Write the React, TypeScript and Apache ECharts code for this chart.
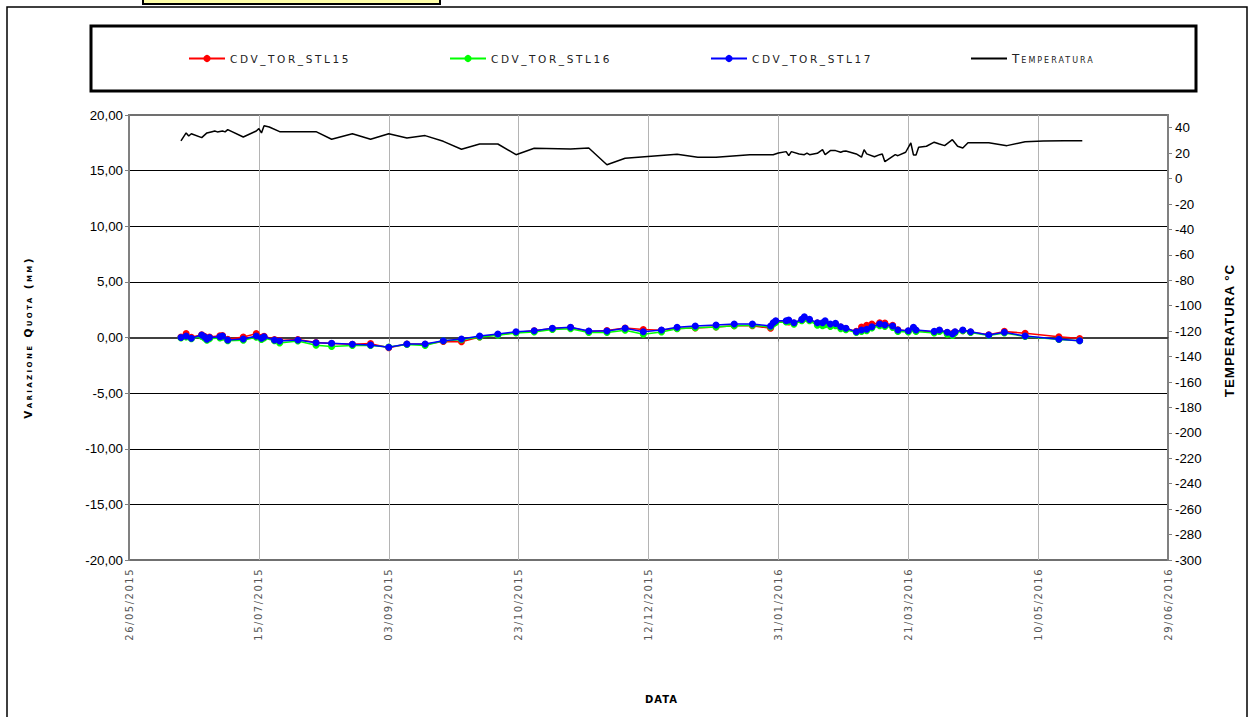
import React, { useEffect, useRef } from 'react';
import * as echarts from 'echarts';

// ---------- data ----------
const X_START = '26/05/2015';
const X_END_DAYS = 400;
const X_INTERVAL_DAYS = 50;

const surveyDates = [
  '15/06/2015', '17/06/2015', '19/06/2015', '23/06/2015', '24/06/2015', '25/06/2015', '26/06/2015', '30/06/2015',
  '01/07/2015', '03/07/2015', '09/07/2015', '14/07/2015', '16/07/2015', '17/07/2015', '21/07/2015', '23/07/2015',
  '30/07/2015', '06/08/2015', '12/08/2015', '20/08/2015', '27/08/2015', '03/09/2015', '10/09/2015', '17/09/2015',
  '24/09/2015', '01/10/2015', '08/10/2015', '15/10/2015', '22/10/2015', '29/10/2015', '05/11/2015', '12/11/2015',
  '19/11/2015', '26/11/2015', '03/12/2015', '10/12/2015', '17/12/2015', '23/12/2015', '30/12/2015', '07/01/2016',
  '14/01/2016', '21/01/2016', '28/01/2016', '29/01/2016', '30/01/2016', '03/02/2016', '04/02/2016', '06/02/2016',
  '09/02/2016', '10/02/2016', '12/02/2016', '15/02/2016', '17/02/2016', '18/02/2016', '20/02/2016', '22/02/2016',
  '24/02/2016', '26/02/2016', '01/03/2016', '03/03/2016', '05/03/2016', '07/03/2016', '10/03/2016', '12/03/2016',
  '15/03/2016', '17/03/2016', '21/03/2016', '23/03/2016', '24/03/2016', '31/03/2016', '02/04/2016', '05/04/2016',
  '07/04/2016', '08/04/2016', '11/04/2016', '14/04/2016', '21/04/2016', '27/04/2016', '05/05/2016', '18/05/2016',
  '26/05/2016',
];

const stl15 = [
  0.05, 0.35, 0.02, 0.25, 0.12, -0.10, 0.05, 0.15,
  0.18, -0.15, 0.05, 0.35, 0.02, 0.12, -0.18, -0.28,
  -0.18, -0.45, -0.55, -0.60, -0.55, -0.92, -0.58, -0.60,
  -0.35, -0.38, 0.05, 0.25, 0.45, 0.60, 0.80, 0.90,
  0.55, 0.62, 0.85, 0.72, 0.65, 0.82, 0.85, 0.95,
  1.05, 1.05, 0.83, 1.25, 1.45, 1.45, 1.40, 1.30,
  1.55, 1.75, 1.55, 1.30, 1.25, 1.35, 1.15, 1.20,
  0.95, 0.80, 0.55, 0.95, 1.10, 1.20, 1.33, 1.30,
  1.10, 0.70, 0.58, 0.85, 0.62, 0.50, 0.62, 0.45,
  0.35, 0.50, 0.62, 0.50, 0.25, 0.55, 0.38, 0.07,
  -0.10,
];

const stl16 = [
  -0.05, 0.05, -0.12, 0.10, -0.05, -0.25, -0.12, -0.05,
  0.02, -0.30, -0.25, 0.02, -0.18, -0.05, -0.30, -0.50,
  -0.32, -0.70, -0.80, -0.72, -0.72, -0.85, -0.62, -0.72,
  -0.30, -0.20, 0.05, 0.20, 0.40, 0.50, 0.72, 0.78,
  0.45, 0.45, 0.65, 0.30, 0.50, 0.78, 0.88, 0.95,
  1.05, 1.10, 0.95, 1.20, 1.35, 1.40, 1.45, 1.20,
  1.50, 1.70, 1.50, 1.10, 1.05, 1.15, 1.00, 1.05,
  0.80, 0.70, 0.45, 0.55, 0.62, 0.85, 1.05, 1.00,
  0.90, 0.55, 0.50, 0.80, 0.55, 0.40, 0.55, 0.30,
  0.18, 0.40, 0.60, 0.45, 0.18, 0.40, 0.10, -0.18,
  -0.30,
];

const stl17 = [
  0.00, 0.13, -0.07, 0.22, 0.07, -0.16, 0.00, 0.07,
  0.13, -0.22, -0.13, 0.13, -0.07, 0.07, -0.22, -0.31,
  -0.22, -0.47, -0.52, -0.61, -0.67, -0.88, -0.58, -0.58,
  -0.29, -0.13, 0.13, 0.31, 0.52, 0.61, 0.83, 0.92,
  0.58, 0.58, 0.83, 0.52, 0.67, 0.92, 1.03, 1.12,
  1.21, 1.21, 1.03, 1.33, 1.51, 1.51, 1.57, 1.33,
  1.63, 1.87, 1.63, 1.33, 1.33, 1.51, 1.21, 1.27,
  0.97, 0.83, 0.52, 0.67, 0.74, 0.97, 1.21, 1.12,
  1.03, 0.67, 0.61, 0.92, 0.67, 0.55, 0.67, 0.47,
  0.31, 0.52, 0.67, 0.52, 0.22, 0.47, 0.13, -0.16,
  -0.29,
];

const tempDates = [
  '15/06/2015', '17/06/2015', '18/06/2015', '19/06/2015', '23/06/2015', '25/06/2015', '27/06/2015', '28/06/2015',
  '29/06/2015', '01/07/2015', '02/07/2015', '03/07/2015', '09/07/2015', '14/07/2015', '15/07/2015', '16/07/2015',
  '17/07/2015', '19/07/2015', '23/07/2015', '06/08/2015', '12/08/2015', '20/08/2015', '27/08/2015', '03/09/2015',
  '10/09/2015', '17/09/2015', '24/09/2015', '01/10/2015', '08/10/2015', '15/10/2015', '22/10/2015', '29/10/2015',
  '12/11/2015', '19/11/2015', '26/11/2015', '03/12/2015', '23/12/2015', '31/12/2015', '07/01/2016', '20/01/2016',
  '29/01/2016', '31/01/2016', '03/02/2016', '04/02/2016', '05/02/2016', '08/02/2016', '10/02/2016', '11/02/2016',
  '12/02/2016', '15/02/2016', '17/02/2016', '18/02/2016', '20/02/2016', '22/02/2016', '24/02/2016', '25/02/2016',
  '26/02/2016', '01/03/2016', '03/03/2016', '04/03/2016', '05/03/2016', '08/03/2016', '10/03/2016', '11/03/2016',
  '12/03/2016', '15/03/2016', '16/03/2016', '17/03/2016', '20/03/2016', '22/03/2016', '23/03/2016', '24/03/2016',
  '25/03/2016', '28/03/2016', '31/03/2016', '02/04/2016', '04/04/2016', '07/04/2016', '09/04/2016', '11/04/2016',
  '13/04/2016', '21/04/2016', '28/04/2016', '05/05/2016', '12/05/2016', '20/05/2016', '27/05/2016',
];

const temperature = [
  29.6, 35.9, 33.5, 35.3, 32.2, 35.9, 36.9, 37.4,
  36.7, 37.4, 36.7, 38.5, 32.7, 37.4, 39.3, 35.9,
  41.6, 40.6, 36.9, 36.9, 30.9, 35.3, 30.9, 35.3,
  31.9, 33.8, 29.3, 23.1, 27.2, 27.2, 18.8, 23.8,
  23.3, 24.1, 10.9, 16.0, 19.1, 16.8, 16.8, 18.8,
  18.8, 20.1, 21.2, 18.0, 21.2, 19.4, 18.8, 20.1,
  18.8, 19.9, 22.7, 18.8, 22.0, 22.0, 20.7, 21.5,
  21.7, 19.4, 16.8, 22.7, 19.4, 17.2, 18.8, 19.4,
  13.3, 17.5, 18.8, 18.0, 20.7, 28.0, 18.6, 18.6,
  24.6, 25.4, 28.6, 27.2, 25.9, 30.6, 25.4, 24.1,
  28.2, 28.2, 25.9, 29.0, 29.6, 29.8, 29.8,
];

const seriesNames = ['CDV_TOR_STL15', 'CDV_TOR_STL16', 'CDV_TOR_STL17', 'Temperatura'];
const seriesColors = ['#ff0000', '#00ff00', '#0000ff', '#000000'];
const leftAxisName = 'Variazione Quota (mm)';
const rightAxisName = 'TEMPERATURA °C';
const xAxisName = 'DATA';

// ---------- helpers ----------
const DAY_MS = 86400000;
function parseDate(s: string): number {
  const [d, m, y] = s.split('/').map(Number);
  return Date.UTC(y, m - 1, d);
}
const ORIGIN = parseDate(X_START);
const toDay = (s: string) => Math.round((parseDate(s) - ORIGIN) / DAY_MS);
const pad = (n: number) => (n < 10 ? '0' + n : '' + n);
function dayLabel(v: number): string {
  const dt = new Date(ORIGIN + v * DAY_MS);
  return pad(dt.getUTCDate()) + '/' + pad(dt.getUTCMonth() + 1) + '/' + dt.getUTCFullYear();
}

const LEGEND_FONT = 'DejaVu Sans;letter-spacing:2.6px';
const LEGEND_SC_FONT = 'DejaVu Sans;font-variant:small-caps;letter-spacing:2px';
const LEFT_NAME_FONT = 'DejaVu Sans;font-variant:small-caps;letter-spacing:2.4px';
const XLABEL_FONT = 'DejaVu Sans;letter-spacing:1.5px';
const XNAME_FONT = 'DejaVu Sans;letter-spacing:1px';
const RNAME_FONT = 'Liberation Sans;letter-spacing:1px';

export default function App() {
  const ref = useRef<HTMLDivElement>(null);

  useEffect(() => {
    if (!ref.current) return;
    const chart = echarts.init(ref.current, undefined, { renderer: 'svg' });

    const dispSeries = [stl15, stl16, stl17].map((vals, k) => ({
      name: seriesNames[k],
      type: 'line',
      yAxisIndex: 0,
      data: surveyDates.map((d, i) => [toDay(d), vals[i]]),
      symbol: 'circle',
      symbolSize: 7,
      showSymbol: true,
      lineStyle: { color: seriesColors[k], width: 1.5 },
      itemStyle: { color: seriesColors[k] },
      z: 3 + k,
    }));

    const legendLefts = [188, 449, 710, 971];

    const option: any = {
      animation: false,
      backgroundColor: '#ffffff',
      grid: {
        left: 129,
        right: 88,
        top: 115,
        bottom: 157,
        show: true,
        borderColor: '#707070',
        borderWidth: 2,
        backgroundColor: 'transparent',
      },
      legend: seriesNames.map((n, i) =>
        i === 3
          ? {
              data: [{ name: n, icon: 'rect' }],
              left: legendLefts[i],
              top: 52,
              itemWidth: 36,
              itemHeight: 2,
              padding: 0,
              selectedMode: false,
              textStyle: { fontFamily: LEGEND_SC_FONT, fontSize: 12, color: '#222' },
            }
          : {
              data: [{ name: n }],
              left: legendLefts[i],
              top: 52,
              itemWidth: 36,
              itemHeight: 9,
              padding: 0,
              selectedMode: false,
              textStyle: { fontFamily: LEGEND_FONT, fontSize: 10.5, color: '#222' },
            }
      ),
      xAxis: {
        type: 'value',
        min: 0,
        max: X_END_DAYS,
        interval: X_INTERVAL_DAYS,
        name: xAxisName,
        nameLocation: 'middle',
        nameGap: 133,
        nameTextStyle: {
          fontWeight: 'bold',
          fontSize: 10,
          color: '#000',
          fontFamily: XNAME_FONT,
          padding: [0, 0, 0, 26],
        },
        axisLine: { show: true, lineStyle: { color: '#404040', width: 2 } },
        axisTick: { show: true, length: 4, lineStyle: { color: '#808080' } },
        axisLabel: {
          rotate: 90,
          formatter: (v: number) => dayLabel(v),
          color: '#555',
          fontSize: 10,
          fontFamily: XLABEL_FONT,
          margin: 8,
        },
        splitLine: { show: true, showMinLine: false, showMaxLine: false, lineStyle: { color: '#b4b4b4', width: 1 } },
      },
      yAxis: [
        {
          type: 'value',
          position: 'left',
          min: -20,
          max: 20,
          interval: 5,
          name: leftAxisName,
          nameLocation: 'middle',
          nameGap: 95,
          nameTextStyle: { fontWeight: 'bold', fontSize: 10.5, color: '#000', fontFamily: LEFT_NAME_FONT },
          axisLine: { show: true, lineStyle: { color: '#808080', width: 2 } },
          axisTick: { show: true, length: 4, lineStyle: { color: '#808080' } },
          axisLabel: {
            formatter: (v: number) => v.toFixed(2).replace('.', ','),
            color: '#000',
            fontSize: 13.33,
            fontFamily: 'Liberation Sans',
            margin: 6,
          },
          splitLine: { show: true, showMinLine: false, showMaxLine: false, lineStyle: { color: '#000', width: 1 } },
        },
        {
          type: 'value',
          position: 'right',
          min: -300,
          max: 50,
          interval: 20,
          name: rightAxisName,
          nameLocation: 'middle',
          nameGap: 55,
          nameTextStyle: {
            fontWeight: 'bold',
            fontSize: 13.33,
            color: '#000',
            fontFamily: RNAME_FONT,
            padding: [0, 0, 0, 14],
          },
          axisLine: { show: true, lineStyle: { color: '#808080', width: 2 } },
          axisTick: { show: true, length: 4, lineStyle: { color: '#808080' } },
          axisLabel: {
            showMaxLabel: false,
            color: '#000',
            fontSize: 13.33,
            fontFamily: 'Liberation Sans',
            margin: 7,
          },
          splitLine: { show: false },
        },
      ],
      series: [
        ...dispSeries,
        {
          name: seriesNames[3],
          type: 'line',
          yAxisIndex: 1,
          data: tempDates.map((d, i) => [toDay(d), temperature[i]]),
          symbol: 'none',
          showSymbol: false,
          lineStyle: { color: '#000', width: 1.5 },
          itemStyle: { color: '#000' },
          z: 6,
        },
      ],
      graphic: [
        {
          type: 'rect',
          shape: { x: 7, y: 7, width: 1240, height: 720 },
          style: { fill: 'none', stroke: '#000', lineWidth: 1.5 },
          silent: true,
          z: -1,
        },
        {
          type: 'rect',
          shape: { x: 91, y: 26, width: 1105, height: 65 },
          style: { fill: 'none', stroke: '#000', lineWidth: 3 },
          silent: true,
        },
        {
          type: 'rect',
          shape: { x: 143, y: -4, width: 297, height: 8 },
          style: { fill: '#ffffa8', stroke: '#000', lineWidth: 2 },
          silent: true,
        },
      ],
    };

    chart.setOption(option);
    return () => chart.dispose();
  }, []);

  return (
    <div
      ref={ref}
      style={{ position: 'absolute', left: 0, top: 0, width: 1256, height: 717 }}
    />
  );
}
